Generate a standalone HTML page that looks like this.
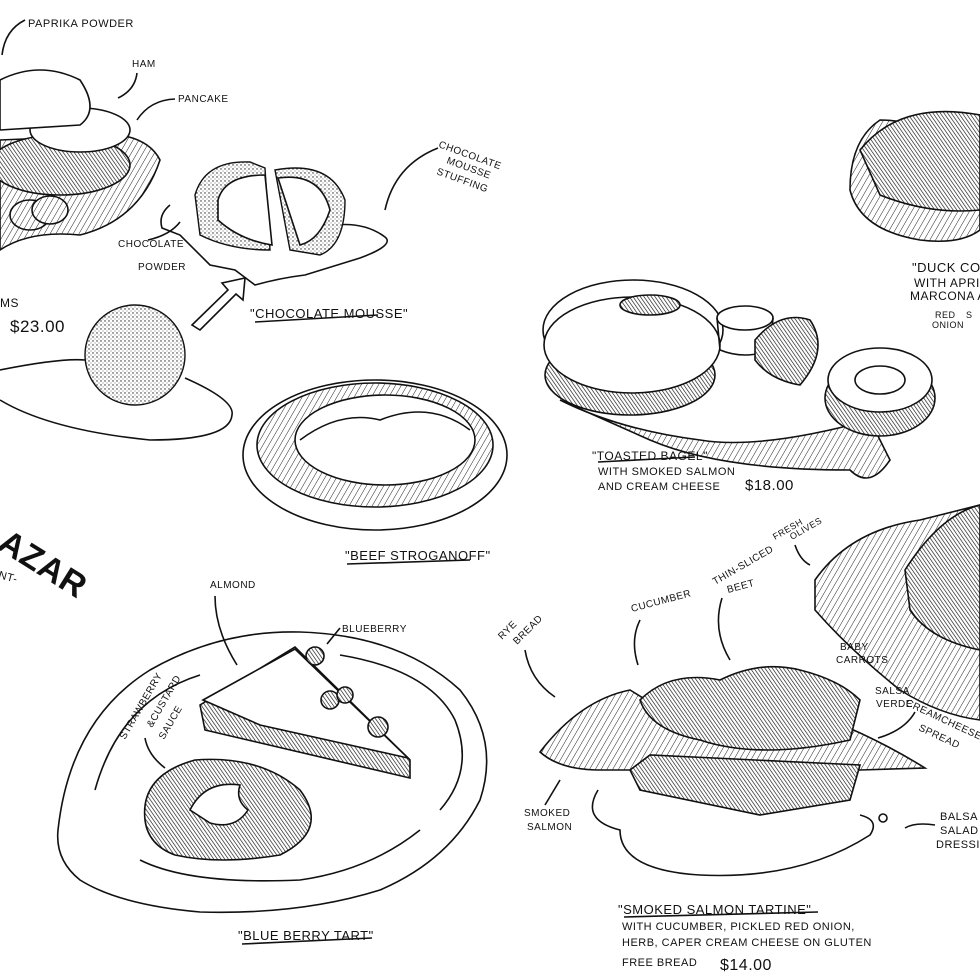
<!DOCTYPE html>
<html><head><meta charset="utf-8"><style>
html,body{margin:0;padding:0;background:#fff;width:980px;height:980px;overflow:hidden}
svg{display:block}
text{font-family:"Liberation Sans",sans-serif;fill:#111;letter-spacing:0.5px}
.s{fill:none;stroke:#111;stroke-width:1.6}
.h{fill:url(#hatch);stroke:#111;stroke-width:1.6}
.d{fill:url(#dots);stroke:#111;stroke-width:1.4}
.w{fill:#fff;stroke:#111;stroke-width:1.6}
.k{fill:url(#dense);stroke:#111;stroke-width:1.6}
</style></head><body>
<svg width="980" height="980" viewBox="0 0 980 980" xmlns="http://www.w3.org/2000/svg" font-size="11">
<defs>
<pattern id="hatch" width="5" height="5" patternUnits="userSpaceOnUse" patternTransform="rotate(30)"><rect width="5" height="5" fill="#fff"/><line x1="0" y1="0" x2="0" y2="5" stroke="#222" stroke-width="1"/></pattern>
<pattern id="dense" width="3" height="3" patternUnits="userSpaceOnUse" patternTransform="rotate(-35)"><rect width="3" height="3" fill="#fff"/><line x1="0" y1="0" x2="0" y2="3" stroke="#111" stroke-width="1.3"/></pattern>
<pattern id="dots" width="4" height="4" patternUnits="userSpaceOnUse"><rect width="4" height="4" fill="#fff"/><circle cx="1" cy="1" r="0.7" fill="#222"/><circle cx="3" cy="3" r="0.5" fill="#444"/></pattern>
</defs>
<rect width="980" height="980" fill="#fff"/>

<!-- top-left pancake stack -->
<path class="h" d="M0,250 Q30,230 80,235 Q140,220 160,160 Q150,140 120,135 L0,140 Z"/>
<ellipse class="k" cx="60" cy="165" rx="70" ry="30"/>
<ellipse class="w" cx="80" cy="130" rx="50" ry="22"/>
<path class="w" d="M0,80 Q40,60 80,80 Q100,110 80,125 L0,130 Z"/>
<ellipse class="h" cx="30" cy="215" rx="20" ry="15"/>
<ellipse class="h" cx="50" cy="210" rx="18" ry="14"/>
<path class="s" d="M25,20 Q5,30 2,55"/>
<text x="28" y="27" font-size="11">PAPRIKA POWDER</text>
<text x="132" y="67" font-size="10">HAM</text>
<path class="s" d="M137,73 Q135,90 118,98"/>
<text x="178" y="102" font-size="10">PANCAKE</text>
<path class="s" d="M175,99 Q150,100 137,120"/>
<text x="0" y="307" font-size="12">MS</text>
<text x="10" y="332" font-size="17">$23.00</text>

<!-- chocolate mousse cut -->
<path class="s" d="M170,205 Q158,215 162,228 L180,235 Q200,255 210,265 L235,270 L255,285 Q280,278 305,275 L360,258 Q395,245 385,237 Q365,222 335,225"/>
<path class="d" d="M195,195 Q205,160 250,162 L265,168 L270,250 Q230,250 200,235 Z"/>
<path class="d" d="M275,170 Q330,160 345,200 Q345,245 320,255 L290,250 Z"/>
<path class="w" d="M218,200 Q225,175 265,175 L272,245 Q240,240 218,220 Z"/>
<path class="w" d="M278,178 Q320,172 330,210 Q320,240 300,245 Z"/>
<text x="118" y="247" font-size="10">CHOCOLATE</text>
<text x="138" y="270" font-size="10">POWDER</text>
<path class="s" d="M148,240 Q170,235 180,222"/>
<text x="438" y="147" font-size="10" transform="rotate(20 438 147)">CHOCOLATE</text>
<text x="446" y="163" font-size="10" transform="rotate(20 446 163)">MOUSSE</text>
<text x="436" y="174" font-size="10" transform="rotate(20 436 174)">STUFFING</text>
<path class="s" d="M438,148 Q395,165 385,210"/>
<path class="s" d="M192,325 L228,290 L222,283 L245,278 L243,300 L236,294 L200,330 Z"/>
<text x="250" y="318" font-size="13">"CHOCOLATE MOUSSE"</text>
<path class="s" d="M255,322 L378,315"/>

<!-- whole mousse ball -->
<path class="s" d="M0,370 Q60,358 85,360 M185,378 Q235,400 232,415 Q230,440 150,440 Q50,430 0,400"/>
<circle class="d" cx="135" cy="355" r="50"/>

<!-- beef stroganoff -->
<ellipse class="s" cx="375" cy="455" rx="132" ry="75"/>
<ellipse class="h" cx="375" cy="445" rx="118" ry="62"/>
<ellipse class="w" cx="385" cy="440" rx="90" ry="45"/>
<path class="s" d="M300,440 Q340,410 380,420 Q430,400 470,430"/>
<text x="345" y="560" font-size="13">"BEEF STROGANOFF"</text>
<path class="s" d="M347,564 L470,560"/>

<!-- title -->
<text x="-4" y="548" font-size="34" transform="rotate(32 -4 548)" style="font-weight:bold">AZAR</text>
<text x="-2" y="578" font-size="11" transform="rotate(15 -2 578)">NT-</text>

<!-- bagel -->
<path class="h" d="M560,400 Q620,430 700,440 Q760,450 870,420 L890,460 Q870,490 850,470 Q720,470 650,440 Z"/>
<ellipse class="w" cx="633" cy="330" rx="90" ry="50"/>
<ellipse class="k" cx="630" cy="375" rx="85" ry="40"/>
<ellipse class="w" cx="632" cy="345" rx="88" ry="48"/>
<ellipse class="k" cx="650" cy="305" rx="30" ry="10"/>
<ellipse class="w" cx="745" cy="318" rx="28" ry="12"/>
<path class="s" d="M717,318 L720,350 Q745,360 770,350 L773,318"/>
<path class="k" d="M755,340 Q780,310 810,320 Q830,350 800,385 Q770,380 755,360 Z"/>
<ellipse class="k" cx="880" cy="398" rx="55" ry="38"/>
<ellipse class="w" cx="880" cy="380" rx="52" ry="32"/>
<ellipse class="s" cx="880" cy="380" rx="25" ry="14"/>
<text x="592" y="460" font-size="12">"TOASTED BAGEL"</text>
<path class="s" d="M598,462 L695,457"/>
<text x="598" y="475" font-size="11">WITH SMOKED SALMON</text>
<text x="598" y="490" font-size="11">AND CREAM CHEESE</text>
<text x="745" y="490" font-size="15">$18.00</text>

<!-- duck -->
<path class="h" d="M850,190 Q860,230 920,240 Q960,245 980,230 L980,150 Q920,120 880,120 Q850,140 850,190 Z"/>
<path class="k" d="M860,150 Q900,100 980,115 L980,210 Q930,215 880,195 Z"/>
<text x="912" y="272" font-size="13">"DUCK CO</text>
<text x="914" y="287" font-size="12">WITH APRICO</text>
<text x="910" y="300" font-size="12">MARCONA AL</text>
<text x="935" y="318" font-size="9">RED</text>
<text x="932" y="328" font-size="9">ONION</text>
<text x="966" y="318" font-size="9">S</text>

<!-- right plate -->
<path class="h" d="M815,580 Q850,530 920,520 L980,505 L980,720 Q940,715 900,690 Q850,650 815,610 Z"/>
<path class="k" d="M905,570 Q940,515 980,505 L980,650 Q930,640 910,610 Z"/>
<text x="775" y="540" font-size="9" transform="rotate(-30 775 540)">FRESH</text>
<text x="792" y="540" font-size="9" transform="rotate(-30 792 540)">OLIVES</text>
<path class="s" d="M795,545 Q800,560 810,565"/>
<text x="840" y="650" font-size="10">BABY</text>
<text x="836" y="663" font-size="10">CARROTS</text>
<text x="875" y="694" font-size="10">SALSA</text>
<text x="876" y="707" font-size="10">VERDE</text>
<text x="905" y="705" font-size="10" transform="rotate(25 905 705)">CREAMCHEESE</text>
<text x="918" y="730" font-size="10" transform="rotate(25 918 730)">SPREAD</text>
<path class="s" d="M915,712 Q905,730 878,738"/>
<text x="940" y="820" font-size="11">BALSA</text>
<text x="940" y="834" font-size="11">SALAD</text>
<text x="936" y="848" font-size="11">DRESSIN</text>
<path class="s" d="M935,825 Q915,822 905,828"/>

<!-- tartine -->
<path class="s" d="M598,790 Q580,820 620,830 Q620,870 700,875 Q800,880 870,835 Q880,820 860,815"/>
<path class="h" d="M540,752 Q580,700 630,690 Q680,720 700,740 L830,720 Q880,740 925,768 L860,770 L600,770 Q560,770 540,752 Z"/>
<path class="k" d="M630,770 L650,755 L860,765 L850,800 L760,815 L640,790 Z"/>
<path class="k" d="M640,700 Q670,670 720,680 Q760,660 800,670 Q840,680 860,700 L850,740 Q760,760 700,740 Q650,730 640,700 Z"/>
<circle class="s" cx="883" cy="818" r="4"/>
<text x="502" y="640" font-size="10" transform="rotate(-45 502 640)">RYE</text>
<text x="517" y="645" font-size="10" transform="rotate(-45 517 645)">BREAD</text>
<path class="s" d="M525,650 Q530,680 555,697"/>
<text x="632" y="612" font-size="10" transform="rotate(-15 632 612)">CUCUMBER</text>
<path class="s" d="M640,620 Q630,640 638,665"/>
<text x="715" y="585" font-size="10" transform="rotate(-30 715 585)">THIN-SLICED</text>
<text x="728" y="593" font-size="10" transform="rotate(-15 728 593)">BEET</text>
<path class="s" d="M722,598 Q712,630 730,660"/>
<text x="524" y="816" font-size="10">SMOKED</text>
<text x="527" y="830" font-size="10">SALMON</text>
<path class="s" d="M545,805 L560,780"/>
<text x="618" y="914" font-size="13">"SMOKED SALMON TARTINE"</text>
<path class="s" d="M624,917 L818,912"/>
<text x="622" y="930" font-size="11">WITH CUCUMBER, PICKLED RED ONION,</text>
<text x="622" y="946" font-size="11">HERB, CAPER CREAM CHEESE ON GLUTEN</text>
<text x="622" y="966" font-size="11">FREE BREAD</text>
<text x="720" y="970" font-size="16">$14.00</text>

<!-- blueberry tart plate -->
<path class="s" d="M58,830 Q70,720 150,670 Q220,630 300,632 Q400,635 460,690 Q500,740 480,800 Q450,860 380,890 Q300,915 200,912 Q120,905 80,880 Q55,860 58,830 Z"/>
<path class="s" d="M95,790 Q120,700 200,675 M340,655 Q430,670 455,720 Q475,770 440,810 M420,830 Q370,870 300,880 Q190,885 140,860"/>
<path class="k" d="M200,705 L295,647 L410,760 L410,778 L205,730 Z"/>
<path class="w" d="M203,700 L295,649 L408,758 L260,725 Z"/>
<circle class="k" cx="315" cy="656" r="9"/><circle class="k" cx="330" cy="700" r="9"/><circle class="k" cx="345" cy="695" r="8"/><circle class="k" cx="378" cy="727" r="10"/>
<path class="k" d="M145,820 Q140,775 195,760 Q260,755 300,790 Q330,830 280,855 Q220,865 175,855 Q148,845 145,820 Z"/>
<path class="w" d="M190,810 Q205,780 240,785 Q235,800 248,810 Q235,830 210,823 Z"/>
<text x="210" y="588" font-size="10">ALMOND</text>
<path class="s" d="M215,596 Q215,630 237,665"/>
<text x="342" y="632" font-size="10">BLUEBERRY</text>
<path class="s" d="M340,628 L327,644"/>
<text x="125" y="740" font-size="10" transform="rotate(-60 125 740)">STRAWBERRY</text>
<text x="152" y="728" font-size="10" transform="rotate(-60 152 728)">&amp;CUSTARD</text>
<text x="164" y="740" font-size="10" transform="rotate(-60 164 740)">SAUCE</text>
<path class="s" d="M145,738 Q148,755 165,768"/>
<text x="238" y="940" font-size="13">"BLUE BERRY TART"</text>
<path class="s" d="M242,944 L372,938"/>
</svg>
</body></html>
